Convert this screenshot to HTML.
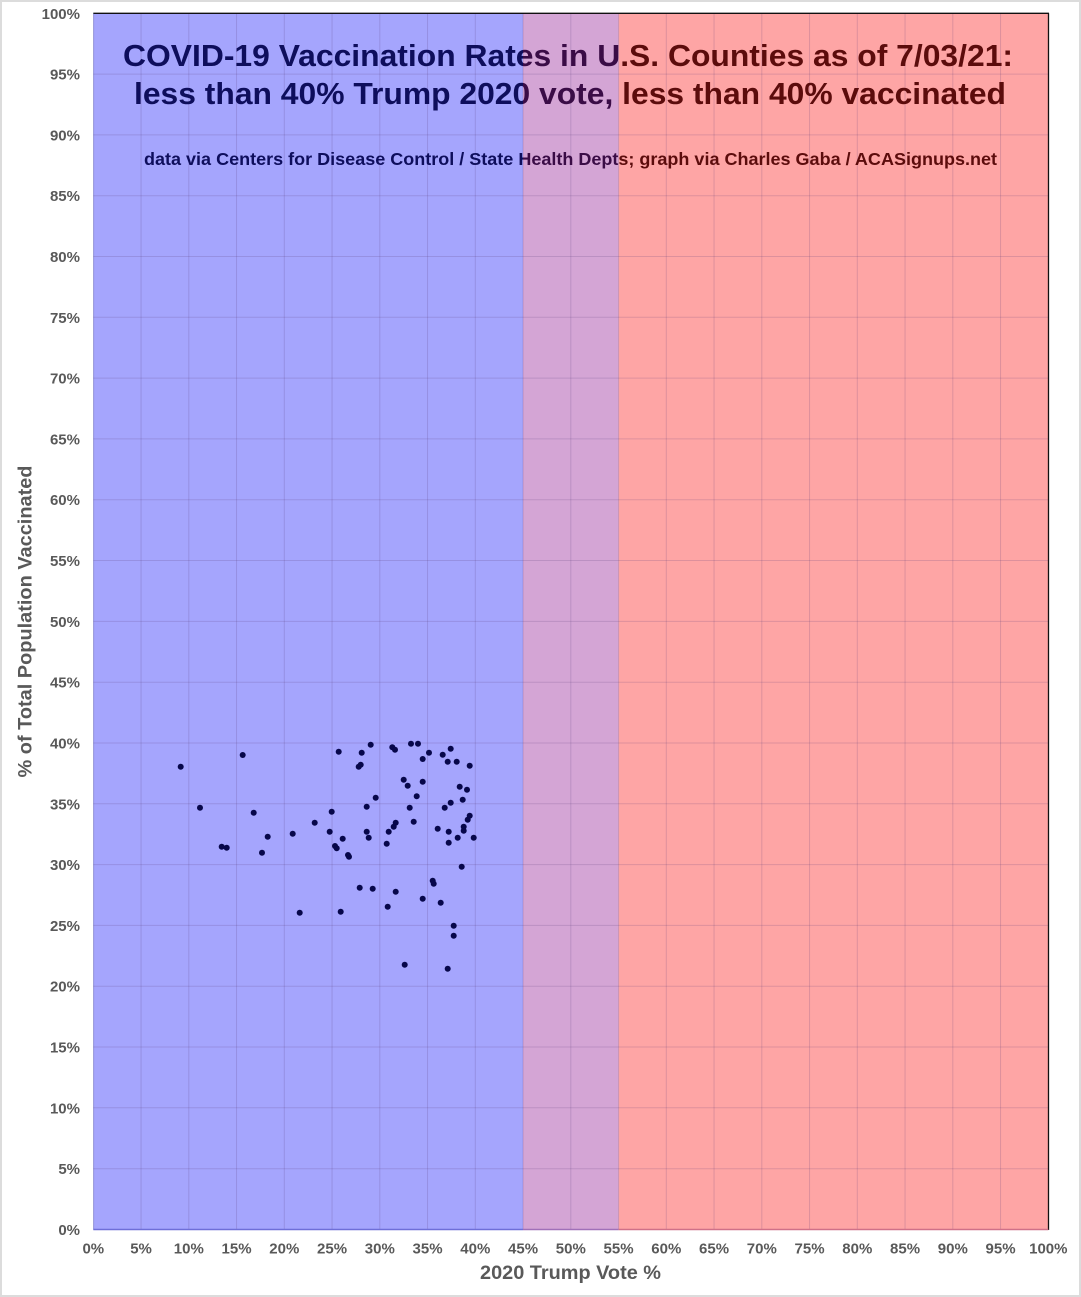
<!DOCTYPE html>
<html>
<head>
<meta charset="utf-8">
<style>
html,body{margin:0;padding:0;background:#fff;}
svg{display:block;}
text{font-family:"Liberation Sans",Arial,sans-serif;}
.yt{font-size:15px;font-weight:bold;fill:#595959;text-anchor:end;}
.xt{font-size:15px;font-weight:bold;fill:#595959;text-anchor:middle;}
.t1{font-size:31px;font-weight:bold;}
.t3{font-size:17.5px;font-weight:bold;}
</style>
</head>
<body>
<svg width="1081" height="1297" viewBox="0 0 1081 1297" xmlns="http://www.w3.org/2000/svg">
<defs>
<clipPath id="cb"><rect x="0" y="0" width="523" height="1297"/></clipPath>
<clipPath id="cp"><rect x="523" y="0" width="95.6" height="1297"/></clipPath>
<clipPath id="cr"><rect x="618.6" y="0" width="470" height="1297"/></clipPath>
</defs>
<rect x="0" y="0" width="1081" height="1297" fill="#ffffff"/>
<rect x="1" y="1" width="1079" height="1295" fill="none" stroke="#dcdcdc" stroke-width="2"/>

<!-- bands -->
<rect x="93.3" y="13.3" width="429.7" height="1216.2" fill="#a5a5fd"/>
<rect x="523" y="13.3" width="95.6" height="1216.2" fill="#d4a5d5"/>
<rect x="618.6" y="13.3" width="429.7" height="1216.2" fill="#fea5a5"/>

<!-- grid -->
<g stroke="rgba(90,60,120,0.2)" stroke-width="1">
<line x1="141.05" y1="13.3" x2="141.05" y2="1229.5"/>
<line x1="188.8" y1="13.3" x2="188.8" y2="1229.5"/>
<line x1="236.55" y1="13.3" x2="236.55" y2="1229.5"/>
<line x1="284.3" y1="13.3" x2="284.3" y2="1229.5"/>
<line x1="332.05" y1="13.3" x2="332.05" y2="1229.5"/>
<line x1="379.8" y1="13.3" x2="379.8" y2="1229.5"/>
<line x1="427.55" y1="13.3" x2="427.55" y2="1229.5"/>
<line x1="475.3" y1="13.3" x2="475.3" y2="1229.5"/>
<line x1="523.05" y1="13.3" x2="523.05" y2="1229.5"/>
<line x1="570.8" y1="13.3" x2="570.8" y2="1229.5"/>
<line x1="618.55" y1="13.3" x2="618.55" y2="1229.5"/>
<line x1="666.3" y1="13.3" x2="666.3" y2="1229.5"/>
<line x1="714.05" y1="13.3" x2="714.05" y2="1229.5"/>
<line x1="761.8" y1="13.3" x2="761.8" y2="1229.5"/>
<line x1="809.55" y1="13.3" x2="809.55" y2="1229.5"/>
<line x1="857.3" y1="13.3" x2="857.3" y2="1229.5"/>
<line x1="905.05" y1="13.3" x2="905.05" y2="1229.5"/>
<line x1="952.8" y1="13.3" x2="952.8" y2="1229.5"/>
<line x1="1000.55" y1="13.3" x2="1000.55" y2="1229.5"/>

<line x1="93.3" y1="74.1" x2="1048.3" y2="74.1"/>
<line x1="93.3" y1="134.9" x2="1048.3" y2="134.9"/>
<line x1="93.3" y1="195.7" x2="1048.3" y2="195.7"/>
<line x1="93.3" y1="256.5" x2="1048.3" y2="256.5"/>
<line x1="93.3" y1="317.3" x2="1048.3" y2="317.3"/>
<line x1="93.3" y1="378.1" x2="1048.3" y2="378.1"/>
<line x1="93.3" y1="438.9" x2="1048.3" y2="438.9"/>
<line x1="93.3" y1="499.7" x2="1048.3" y2="499.7"/>
<line x1="93.3" y1="560.5" x2="1048.3" y2="560.5"/>
<line x1="93.3" y1="621.4" x2="1048.3" y2="621.4"/>
<line x1="93.3" y1="682.2" x2="1048.3" y2="682.2"/>
<line x1="93.3" y1="743.0" x2="1048.3" y2="743.0"/>
<line x1="93.3" y1="803.8" x2="1048.3" y2="803.8"/>
<line x1="93.3" y1="864.6" x2="1048.3" y2="864.6"/>
<line x1="93.3" y1="925.4" x2="1048.3" y2="925.4"/>
<line x1="93.3" y1="986.2" x2="1048.3" y2="986.2"/>
<line x1="93.3" y1="1047.0" x2="1048.3" y2="1047.0"/>
<line x1="93.3" y1="1107.8" x2="1048.3" y2="1107.8"/>
<line x1="93.3" y1="1168.7" x2="1048.3" y2="1168.7"/>
</g>

<!-- axes border -->
<line x1="93.3" y1="13.3" x2="1049" y2="13.3" stroke="#111" stroke-width="1.3"/>
<line x1="1048.5" y1="13.3" x2="1048.5" y2="1230" stroke="#111" stroke-width="1.3"/>
<line x1="93.6" y1="13.3" x2="93.6" y2="1229.5" stroke="rgba(80,80,150,0.35)" stroke-width="1"/>
<line x1="93.3" y1="1229.5" x2="523" y2="1229.5" stroke="#6e6ed8" stroke-width="1.6"/>
<line x1="523" y1="1229.5" x2="618.6" y2="1229.5" stroke="#a070b8" stroke-width="1.6"/>
<line x1="618.6" y1="1229.5" x2="1048.3" y2="1229.5" stroke="#d07088" stroke-width="1.6"/>

<!-- titles (color varies by band) -->
<g clip-path="url(#cb)" fill="#0e0e5c">
<text class="t1" x="123" y="66" textLength="890" lengthAdjust="spacingAndGlyphs">COVID-19 Vaccination Rates in U.S. Counties as of 7/03/21:</text>
<text class="t1" x="134" y="104" textLength="872" lengthAdjust="spacingAndGlyphs">less than 40% Trump 2020 vote, less than 40% vaccinated</text>
<text class="t3" x="144" y="165" textLength="853" lengthAdjust="spacingAndGlyphs">data via Centers for Disease Control / State Health Depts; graph via Charles Gaba / ACASignups.net</text>
</g>
<g clip-path="url(#cp)" fill="#3a0c46">
<text class="t1" x="123" y="66" textLength="890" lengthAdjust="spacingAndGlyphs">COVID-19 Vaccination Rates in U.S. Counties as of 7/03/21:</text>
<text class="t1" x="134" y="104" textLength="872" lengthAdjust="spacingAndGlyphs">less than 40% Trump 2020 vote, less than 40% vaccinated</text>
<text class="t3" x="144" y="165" textLength="853" lengthAdjust="spacingAndGlyphs">data via Centers for Disease Control / State Health Depts; graph via Charles Gaba / ACASignups.net</text>
</g>
<g clip-path="url(#cr)" fill="#5c0c0c">
<text class="t1" x="123" y="66" textLength="890" lengthAdjust="spacingAndGlyphs">COVID-19 Vaccination Rates in U.S. Counties as of 7/03/21:</text>
<text class="t1" x="134" y="104" textLength="872" lengthAdjust="spacingAndGlyphs">less than 40% Trump 2020 vote, less than 40% vaccinated</text>
<text class="t3" x="144" y="165" textLength="853" lengthAdjust="spacingAndGlyphs">data via Centers for Disease Control / State Health Depts; graph via Charles Gaba / ACASignups.net</text>
</g>

<!-- y tick labels -->
<text class="yt" x="80" y="19">100%</text>
<text class="yt" x="80" y="79.6">95%</text>
<text class="yt" x="80" y="140.4">90%</text>
<text class="yt" x="80" y="201.2">85%</text>
<text class="yt" x="80" y="262">80%</text>
<text class="yt" x="80" y="322.8">75%</text>
<text class="yt" x="80" y="383.6">70%</text>
<text class="yt" x="80" y="444.4">65%</text>
<text class="yt" x="80" y="505.2">60%</text>
<text class="yt" x="80" y="566">55%</text>
<text class="yt" x="80" y="626.9">50%</text>
<text class="yt" x="80" y="687.7">45%</text>
<text class="yt" x="80" y="748.5">40%</text>
<text class="yt" x="80" y="809.3">35%</text>
<text class="yt" x="80" y="870.1">30%</text>
<text class="yt" x="80" y="930.9">25%</text>
<text class="yt" x="80" y="991.7">20%</text>
<text class="yt" x="80" y="1052.5">15%</text>
<text class="yt" x="80" y="1113.3">10%</text>
<text class="yt" x="80" y="1174.2">5%</text>
<text class="yt" x="80" y="1235">0%</text>

<!-- x tick labels -->
<text class="xt" x="93.3" y="1253.5">0%</text>
<text class="xt" x="141.05" y="1253.5">5%</text>
<text class="xt" x="188.8" y="1253.5">10%</text>
<text class="xt" x="236.55" y="1253.5">15%</text>
<text class="xt" x="284.3" y="1253.5">20%</text>
<text class="xt" x="332.05" y="1253.5">25%</text>
<text class="xt" x="379.8" y="1253.5">30%</text>
<text class="xt" x="427.55" y="1253.5">35%</text>
<text class="xt" x="475.3" y="1253.5">40%</text>
<text class="xt" x="523.05" y="1253.5">45%</text>
<text class="xt" x="570.8" y="1253.5">50%</text>
<text class="xt" x="618.55" y="1253.5">55%</text>
<text class="xt" x="666.3" y="1253.5">60%</text>
<text class="xt" x="714.05" y="1253.5">65%</text>
<text class="xt" x="761.8" y="1253.5">70%</text>
<text class="xt" x="809.55" y="1253.5">75%</text>
<text class="xt" x="857.3" y="1253.5">80%</text>
<text class="xt" x="905.05" y="1253.5">85%</text>
<text class="xt" x="952.8" y="1253.5">90%</text>
<text class="xt" x="1000.55" y="1253.5">95%</text>
<text class="xt" x="1048.3" y="1253.5">100%</text>

<!-- axis titles -->
<text x="570.5" y="1279" text-anchor="middle" font-size="19.5" font-weight="bold" fill="#595959" textLength="181" lengthAdjust="spacingAndGlyphs">2020 Trump Vote %</text>
<text x="31.5" y="621.5" text-anchor="middle" font-size="19.5" font-weight="bold" fill="#595959" transform="rotate(-90 31.5 621.5)" textLength="312" lengthAdjust="spacingAndGlyphs">% of Total Population Vaccinated</text>

<!-- data points -->
<g fill="#07074a">
<circle cx="180.7" cy="766.7" r="3"/>
<circle cx="242.7" cy="755" r="3"/>
<circle cx="200" cy="807.7" r="3"/>
<circle cx="253.7" cy="812.7" r="3"/>
<circle cx="221.7" cy="846.7" r="3"/>
<circle cx="226.7" cy="847.7" r="3"/>
<circle cx="267.7" cy="836.7" r="3"/>
<circle cx="262" cy="852.7" r="3"/>
<circle cx="292.7" cy="833.7" r="3"/>
<circle cx="299.7" cy="912.7" r="3"/>
<circle cx="314.7" cy="822.7" r="3"/>
<circle cx="331.7" cy="811.7" r="3"/>
<circle cx="329.7" cy="831.7" r="3"/>
<circle cx="342.7" cy="838.7" r="3"/>
<circle cx="335" cy="846" r="3"/>
<circle cx="336.7" cy="848.3" r="3"/>
<circle cx="348" cy="855" r="3"/>
<circle cx="349" cy="856.7" r="3"/>
<circle cx="338.7" cy="751.7" r="3"/>
<circle cx="361.7" cy="752.7" r="3"/>
<circle cx="370.7" cy="744.7" r="3"/>
<circle cx="358.7" cy="766.7" r="3"/>
<circle cx="360.7" cy="764.7" r="3"/>
<circle cx="366.7" cy="806.7" r="3"/>
<circle cx="375.7" cy="797.7" r="3"/>
<circle cx="366.7" cy="831.7" r="3"/>
<circle cx="368.7" cy="837.7" r="3"/>
<circle cx="359.7" cy="887.7" r="3"/>
<circle cx="372.7" cy="888.7" r="3"/>
<circle cx="340.7" cy="911.7" r="3"/>
<circle cx="392.3" cy="747.3" r="3"/>
<circle cx="395" cy="749.7" r="3"/>
<circle cx="411" cy="743.7" r="3"/>
<circle cx="418" cy="743.7" r="3"/>
<circle cx="422.7" cy="759" r="3"/>
<circle cx="429" cy="752.7" r="3"/>
<circle cx="442.7" cy="754.7" r="3"/>
<circle cx="450.7" cy="748.7" r="3"/>
<circle cx="447.7" cy="761.7" r="3"/>
<circle cx="456.7" cy="761.7" r="3"/>
<circle cx="469.7" cy="765.7" r="3"/>
<circle cx="403.7" cy="779.7" r="3"/>
<circle cx="407.7" cy="785.7" r="3"/>
<circle cx="422.7" cy="781.7" r="3"/>
<circle cx="416.7" cy="796.3" r="3"/>
<circle cx="409.7" cy="807.7" r="3"/>
<circle cx="413.7" cy="821.7" r="3"/>
<circle cx="395.7" cy="822.7" r="3"/>
<circle cx="393.7" cy="826.7" r="3"/>
<circle cx="388.7" cy="831.7" r="3"/>
<circle cx="386.7" cy="843.7" r="3"/>
<circle cx="395.7" cy="891.7" r="3"/>
<circle cx="387.7" cy="906.7" r="3"/>
<circle cx="422.7" cy="898.7" r="3"/>
<circle cx="432.7" cy="880.7" r="3"/>
<circle cx="433.7" cy="883.7" r="3"/>
<circle cx="440.7" cy="902.7" r="3"/>
<circle cx="404.7" cy="964.7" r="3"/>
<circle cx="447.7" cy="968.7" r="3"/>
<circle cx="453.7" cy="925.7" r="3"/>
<circle cx="453.7" cy="935.7" r="3"/>
<circle cx="461.7" cy="866.7" r="3"/>
<circle cx="459.7" cy="786.7" r="3"/>
<circle cx="467" cy="789.7" r="3"/>
<circle cx="462.7" cy="799.7" r="3"/>
<circle cx="450.7" cy="802.7" r="3"/>
<circle cx="444.7" cy="807.7" r="3"/>
<circle cx="437.7" cy="828.7" r="3"/>
<circle cx="448.7" cy="831.7" r="3"/>
<circle cx="463.7" cy="826.7" r="3"/>
<circle cx="463.7" cy="830.7" r="3"/>
<circle cx="467.7" cy="819.7" r="3"/>
<circle cx="469.7" cy="815.7" r="3"/>
<circle cx="457.7" cy="837.7" r="3"/>
<circle cx="448.7" cy="842.7" r="3"/>
<circle cx="473.7" cy="837.7" r="3"/>
</g>
</svg>
</body>
</html>
